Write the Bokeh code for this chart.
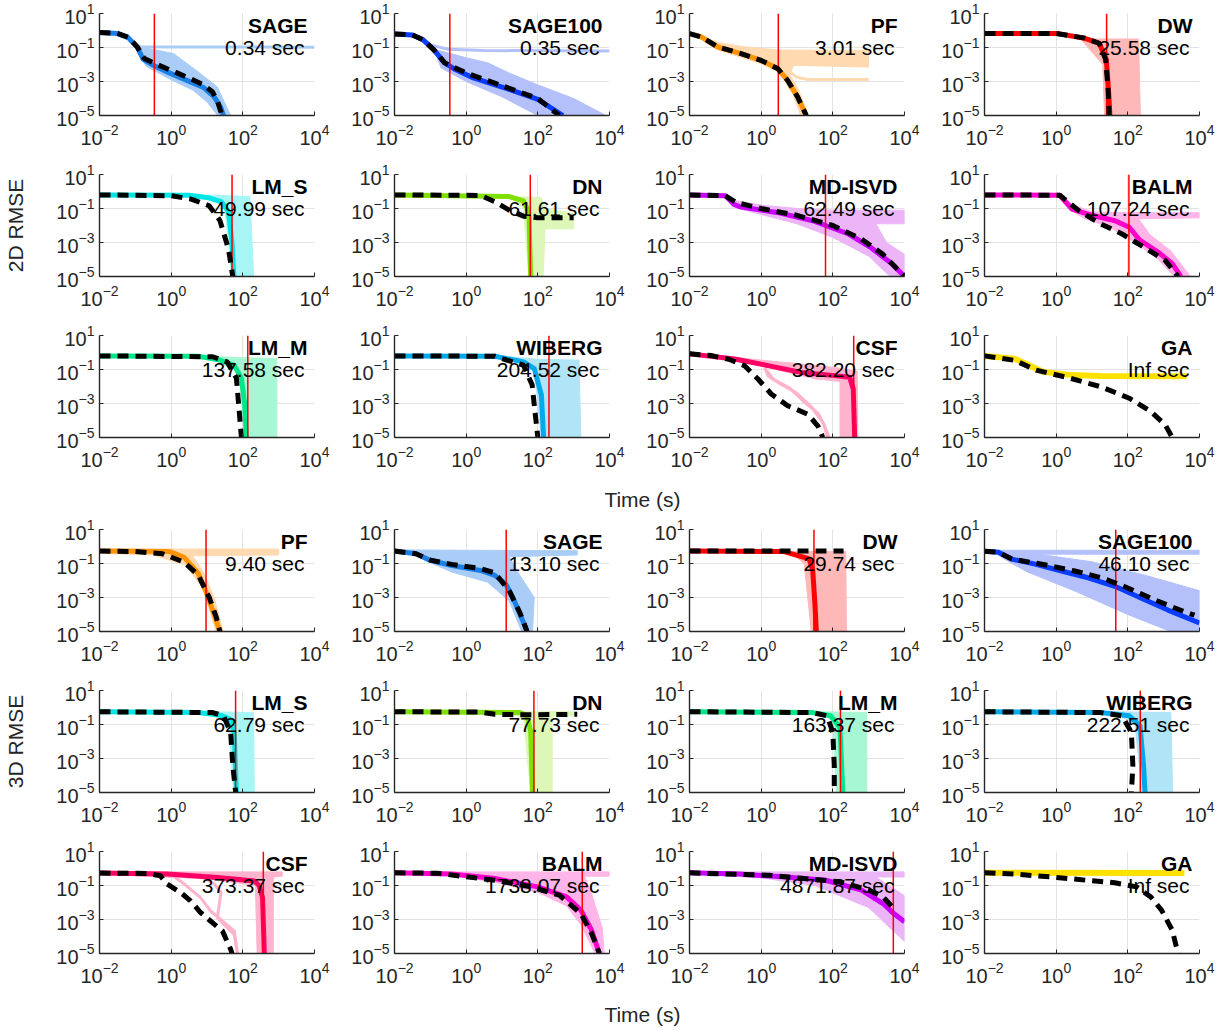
import math
from bokeh.plotting import figure
from bokeh.layouts import column, row
from bokeh.models import Range1d, FixedTicker
from bokeh.core.properties import value
from bokeh.embed import file_html
from bokeh.resources import INLINE

FONT = "Liberation Sans"

# ---------------- DATA (log10 time [s], log10 RMSE) ----------------
names_2d = ["SAGE", "SAGE100", "PF", "DW", "LM_S", "DN", "MD-ISVD", "BALM", "LM_M", "WIBERG", "CSF", "GA"]
times_2d = [0.34, 0.35, 3.01, 25.58, 49.99, 61.61, 62.49, 107.24, 137.58, 204.52, 382.20, float("inf")]
names_3d = ["PF", "SAGE", "DW", "SAGE100", "LM_S", "DN", "LM_M", "WIBERG", "CSF", "BALM", "MD-ISVD", "GA"]
times_3d = [9.40, 13.10, 29.74, 46.10, 62.79, 77.73, 163.37, 222.51, 373.37, 1738.07, 4871.87, float("inf")]

# ---- 2D ----
sage2_med = [(-2, -0.12), (-1.5, -0.18), (-1.2, -0.42), (-0.95, -0.97), (-0.78, -1.7), (-0.5, -2.05), (-0.1, -2.45), (0.45, -2.95), (0.9, -3.35), (1.2, -3.9), (1.38, -4.5), (1.46, -5)]
sage2_dash = [(-2, -0.12), (-1.5, -0.17), (-1.2, -0.4), (-0.95, -0.95), (-0.75, -1.65), (-0.45, -1.95), (0, -2.35), (0.5, -2.8), (0.9, -3.2), (1.15, -3.6), (1.3, -4.2), (1.42, -5)]
sage2_band = [(-0.95, -0.97), (-0.77, -1.0), (0.07, -1.36), (0.82, -2.54), (1.29, -3.33), (1.66, -5), (1.3, -5), (1.0, -4.2), (0.6, -3.5), (0, -2.9), (-0.7, -2.1), (-0.95, -1.2)]
sage2_tr = [[(-1.15, -0.6), (-0.9, -0.95), (0, -0.97), (4, -0.98)]]

sage100_2_med = [(-2, -0.2), (-1.5, -0.26), (-1.2, -0.55), (-0.9, -1.14), (-0.6, -1.91), (-0.3, -2.3), (0.2, -2.79), (1.2, -3.47), (2.0, -4.05), (2.7, -5.0)]
sage100_2_dash = [(-2, -0.2), (-1.5, -0.26), (-1.2, -0.55), (-0.9, -1.14), (-0.6, -1.9), (0, -2.5), (1, -3.25), (2, -4.0), (2.6, -5)]
sage100_2_band = [(-0.9, -1.1), (0, -1.6), (0.6, -1.9), (1.2, -2.5), (2, -3.2), (3, -4.0), (3.9, -5), (2.0, -5), (1, -3.9), (0, -3.0), (-0.7, -2.2)]
sage100_2_tr = [[(-1.1, -0.8), (-0.5, -1.1), (0.5, -1.18), (4, -1.2)]]

pf2_med = [(-2, -0.18), (-1.67, -0.38), (-1.21, -0.97), (-0.56, -1.36), (0, -1.76), (0.47, -2.25), (0.74, -2.94), (1.02, -3.92), (1.26, -5.0)]
pf2_dash = [(-2, -0.18), (-1.67, -0.38), (-1.21, -0.97), (-0.56, -1.36), (0, -1.76), (0.47, -2.25), (0.74, -2.94), (1.02, -3.92), (1.26, -5.0)]
pf2_band = [(-2, -0.05), (-1.2, -0.7), (-0.5, -0.95), (0.5, -1.15), (3, -1.17), (3, -2.15), (0.9, -2.05), (0.8, -2.6), (1.05, -3.5), (1.3, -5.0), (1.1, -5), (0.9, -3.8), (0.6, -2.8), (0.4, -2.35), (0, -1.95), (-0.6, -1.55), (-1.2, -1.15), (-1.7, -0.5), (-2, -0.3)]
pf2_tr = [[(0.7, -2.3), (1.0, -2.75), (1.3, -2.88), (3, -2.88)]]

dw2_med = [(-2, -0.17), (0, -0.17), (0.8, -0.46), (1.2, -0.75), (1.4, -1.7), (1.46, -3.5), (1.5, -5)]
dw2_dash = [(-2, -0.17), (0, -0.17), (0.8, -0.45), (1.2, -0.75), (1.38, -1.7), (1.45, -3.5), (1.48, -5)]
dw2_band = [(0.6, -0.3), (1.1, -0.5), (2.3, -0.5), (2.35, -5), (1.35, -5), (1.3, -2)]

lms2_med = [(-2, -0.2), (0.5, -0.22), (1.0, -0.35), (1.4, -0.6), (1.6, -1.2), (1.7, -3), (1.75, -5)]
lms2_dash = [(-2, -0.2), (0, -0.25), (0.56, -0.45), (1.06, -0.84), (1.36, -1.7), (1.6, -3.4), (1.72, -5)]
lms2_band = [(1.0, -0.2), (1.6, -0.25), (2.2, -0.3), (2.3, -5), (1.7, -5), (1.5, -1.0)]

dn2_med = [(-2, -0.2), (1.2, -0.3), (1.6, -0.55), (1.75, -1.2), (1.8, -5)]
dn2_dash = [(-2, -0.2), (0.4, -0.23), (0.8, -0.6), (1.2, -1.1), (1.6, -1.45), (2.0, -1.55), (3.0, -1.55)]
dn2_band = [(1.2, -0.3), (2.1, -0.35), (2.2, -1.0), (3.0, -1.3), (3.0, -2.2), (2.2, -2.2), (2.15, -5), (1.75, -5), (1.6, -1.0)]

mdisvd2_med = [(-2, -0.2), (-1.0, -0.25), (-0.76, -0.75), (-0.6, -0.9), (0.44, -1.23), (1.44, -1.72), (2.44, -2.5), (3.04, -3.27), (3.64, -4.24), (4, -5)]
mdisvd2_dash = [(-2, -0.2), (-1, -0.25), (-0.7, -0.65), (0, -1.0), (1.0, -1.4), (2.0, -2.0), (2.8, -2.8), (3.4, -3.7), (4, -5)]
mdisvd2_band = [(-1, -0.2), (-0.7, -0.55), (0, -0.8), (1.0, -1.0), (2.0, -1.1), (4, -1.1), (4, -1.9), (3.2, -1.9), (3.5, -3.0), (4, -3.7), (4, -5), (3.6, -5), (3.0, -3.8), (2.0, -2.7), (1.0, -1.9), (0, -1.35), (-0.8, -0.9)]

balm2_med = [(-2, -0.2), (0.1, -0.22), (0.44, -1.04), (1.0, -1.4), (1.64, -1.72), (2.04, -2.1), (2.34, -2.88), (2.84, -3.56), (3.24, -4.24), (3.48, -5)]
balm2_dash = [(-2, -0.2), (0.1, -0.22), (0.64, -1.14), (1.24, -1.9), (1.84, -2.5), (2.44, -3.27), (3.04, -4.05), (3.34, -4.83), (3.4, -5)]
balm2_band = [(0.1, -0.2), (0.5, -0.8), (1.0, -1.2), (2.0, -1.25), (4, -1.25), (4, -1.55), (2.3, -1.6), (2.6, -2.5), (3.2, -3.5), (3.75, -5), (3.3, -5), (2.8, -3.9), (2.2, -3.0), (1.5, -2.1), (0.8, -1.6), (0.4, -1.1)]

lmm2_med = [(-2, -0.2), (0.76, -0.22), (1.36, -0.45), (1.76, -0.75), (1.96, -1.5), (2.05, -3.0), (2.1, -5)]
lmm2_dash = [(-2, -0.2), (1.16, -0.25), (1.56, -0.55), (1.82, -1.5), (1.9, -3.47), (1.96, -5)]
lmm2_band = [(1.0, -0.2), (1.9, -0.3), (2.95, -0.35), (2.95, -5), (2.05, -5), (1.9, -1.2)]

wib2_med = [(-2, -0.2), (0.8, -0.22), (1.6, -0.55), (1.9, -0.95), (2.1, -2.5), (2.16, -5)]
wib2_dash = [(-2, -0.2), (0.8, -0.22), (1.6, -0.75), (1.84, -1.9), (1.92, -3.47), (2.0, -5)]
wib2_band = [(1.2, -0.25), (2.0, -0.4), (3.15, -0.45), (3.2, -5), (2.1, -5), (1.9, -1.0)]

csf2_med = [(-2, -0.08), (-0.74, -0.38), (0.19, -0.77), (1.12, -1.17), (2.05, -1.36), (2.47, -1.46), (2.57, -2.15), (2.61, -5)]
csf2_dash = [(-2, -0.08), (-1.4, -0.18), (-0.9, -0.4), (-0.47, -0.77), (-0.09, -1.56), (0.28, -2.44), (0.74, -3.13), (1.3, -3.63), (1.58, -4.31), (1.72, -5)]
csf2_band = [(-2, 0.0), (0, -0.45), (1.5, -0.75), (2.3, -0.95), (2.68, -1.1), (2.7, -5), (2.2, -5), (2.2, -1.7), (1.5, -1.55), (0.5, -1.05), (-0.5, -0.45), (-2, -0.15)]
csf2_tr = [[(0.1, -0.9), (0.2, -1.4), (0.5, -1.8), (1.0, -2.4), (1.4, -3.2), (1.75, -4.2), (1.85, -5)],
           [(0.1, -0.9), (0.35, -1.6), (0.8, -2.1), (1.2, -2.9), (1.6, -3.6), (1.8, -4.5), (1.9, -5)]]

ga2_med = [(-2, -0.2), (-1.16, -0.36), (-0.76, -0.75), (-0.36, -1.14), (0.44, -1.33), (1.24, -1.38), (3.64, -1.39)]
ga2_dash = [(-2, -0.2), (-1.16, -0.46), (-0.56, -1.04), (0.24, -1.43), (1.24, -2.01), (2.04, -2.69), (2.64, -3.47), (3.04, -4.24), (3.24, -5)]

# ---- 3D ----
pf3_med = [(-2, -0.27), (-0.04, -0.3), (0.36, -0.63), (0.76, -1.6), (0.96, -2.6), (1.16, -3.76), (1.36, -5)]
pf3_dash = [(-2, -0.27), (-1.04, -0.29), (-0.24, -0.43), (0.36, -0.92), (0.76, -1.7), (1.06, -2.98), (1.26, -4.16), (1.36, -5)]
pf3_band = [(-2, -0.15), (3.0, -0.15), (3.0, -0.5), (0.6, -0.55), (0.9, -1.5), (1.2, -3.0), (1.45, -5), (1.25, -5), (0.9, -2.5), (0.4, -1.1), (-0.5, -0.5), (-2, -0.4)]

sage3_med = [(-2, -0.27), (-1.4, -0.43), (-1.0, -0.82), (-0.4, -1.12), (0.4, -1.41), (0.8, -1.7), (1.1, -2.2), (1.3, -2.98), (1.5, -3.96), (1.7, -5)]
sage3_dash = [(-2, -0.27), (-1.4, -0.43), (-1.0, -0.8), (-0.4, -1.05), (0.4, -1.3), (0.8, -1.55), (1.2, -2.6), (1.5, -3.9), (1.7, -5)]
sage3_band = [(-2, -0.2), (3.1, -0.25), (3.1, -0.5), (1.2, -0.6), (1.5, -1.7), (1.9, -3.0), (1.85, -5), (1.55, -5), (1.2, -3.2), (0.6, -2.1), (-0.4, -1.5), (-1.0, -0.95), (-1.5, -0.45)]

dw3_med = [(-2, -0.27), (0.64, -0.3), (1.34, -0.73), (1.44, -1.41), (1.5, -3.37), (1.54, -5)]
dw3_dash = [(-2, -0.27), (2.3, -0.27)]
dw3_band = [(0.8, -0.3), (2.36, -0.3), (2.38, -5), (1.4, -5), (1.2, -1.0)]

sage100_3_med = [(-2, -0.28), (-1.61, -0.34), (-1.24, -0.74), (-0.59, -1.04), (0.15, -1.44), (0.89, -1.84), (1.64, -2.34), (2.38, -3.04), (3.12, -3.74), (4, -4.5)]
sage100_3_dash = [(-2, -0.28), (-1.61, -0.34), (-1.24, -0.74), (-0.4, -1.04), (0.52, -1.44), (1.27, -1.84), (2.0, -2.44), (2.75, -3.14), (3.58, -3.84), (3.86, -4.04)]
sage100_3_band = [(-2, -0.22), (4, -0.22), (4, -0.45), (-0.5, -0.45), (1.0, -0.9), (2.5, -1.7), (4, -2.6), (4, -5), (3.2, -5), (2.0, -4.0), (0.5, -2.6), (-0.8, -1.5), (-1.4, -0.8), (-1.7, -0.4)]

lms3_med = [(-2, -0.25), (0.76, -0.3), (1.36, -0.45), (1.66, -0.69), (1.76, -1.47), (1.82, -5)]
lms3_dash = [(-2, -0.25), (1.16, -0.3), (1.46, -0.49), (1.66, -1.47), (1.72, -3.43), (1.8, -5)]
lms3_band = [(1.2, -0.25), (2.3, -0.3), (2.32, -5), (1.75, -5), (1.6, -1.0)]

dn3_med = [(-2, -0.25), (1.5, -0.3), (1.7, -0.5), (1.8, -1.4), (1.85, -5)]
dn3_dash = [(-2, -0.25), (0.4, -0.27), (0.8, -0.4), (1.5, -0.43), (3.1, -0.4)]
dn3_band = [(1.0, -0.25), (3.0, -0.25), (3.0, -0.5), (2.4, -0.5), (2.4, -5), (1.8, -5), (1.6, -0.6)]

lmm3_med = [(-2, -0.25), (1.44, -0.3), (1.94, -0.49), (2.2, -1.2), (2.28, -5)]
lmm3_dash = [(-2, -0.25), (1.44, -0.3), (1.84, -0.49), (2.0, -1.47), (2.04, -3.43), (2.04, -5)]
lmm3_band = [(1.6, -0.25), (2.95, -0.3), (2.95, -5), (2.1, -5), (2.0, -0.8)]

wib3_med = [(-2, -0.25), (1.24, -0.3), (2.04, -0.49), (2.34, -1.08), (2.44, -3.43), (2.48, -5)]
wib3_dash = [(-2, -0.25), (1.24, -0.3), (1.84, -0.49), (2.1, -1.47), (2.14, -3.43), (2.1, -5)]
wib3_band = [(1.6, -0.25), (3.2, -0.3), (3.25, -5), (2.4, -5), (2.2, -1.0)]

csf3_med = [(-2, -0.27), (-0.11, -0.33), (1.29, -0.53), (2.32, -0.73), (2.46, -1.02), (2.55, -1.71), (2.6, -5)]
csf3_dash = [(-2, -0.27), (-0.67, -0.29), (-0.3, -0.43), (-0.11, -0.92), (0.26, -1.41), (0.54, -1.9), (0.82, -2.59), (1.2, -3.27), (1.43, -3.67), (1.66, -4.75), (1.7, -5)]
csf3_band = [(-2, -0.2), (3.1, -0.2), (3.1, -0.45), (2.85, -0.5), (2.85, -5), (2.4, -5), (2.35, -1.0), (1.0, -0.6), (-2, -0.35)]
csf3_tr = [[(0.0, -0.35), (0.36, -0.9), (0.82, -1.71), (1.1, -2.5), (1.76, -3.67), (1.85, -5)],
           [(0.8, -0.45), (1.2, -0.9), (1.39, -1.4), (1.29, -2.9), (1.76, -3.9), (1.85, -5)]]

balm3_med = [(-2, -0.25), (-0.4, -0.33), (0.8, -0.59), (2.0, -1.08), (2.8, -1.67), (3.2, -2.45), (3.5, -3.63), (3.7, -4.9), (3.72, -5)]
balm3_dash = [(-2, -0.25), (-0.8, -0.28), (0, -0.49), (0.8, -0.69), (1.8, -1.08), (2.6, -1.57), (3.2, -2.65), (3.5, -3.82), (3.72, -5)]
balm3_band = [(-2, -0.2), (4, -0.2), (4, -0.45), (3.3, -0.45), (3.5, -1.5), (3.8, -3.5), (3.85, -5), (3.6, -5), (3.2, -3.3), (2.8, -2.2), (2.0, -1.4), (0.8, -0.8), (-0.5, -0.4), (-2, -0.3)]

mdisvd3_med = [(-2, -0.25), (-0.6, -0.33), (0.6, -0.49), (1.8, -0.69), (2.8, -1.27), (3.4, -2.06), (3.7, -2.65), (4, -3.14)]
mdisvd3_dash = [(-2, -0.25), (-1, -0.33), (0.2, -0.39), (1.2, -0.59), (2.2, -0.78), (3.0, -1.27), (3.4, -1.67), (3.7, -2.35)]
mdisvd3_band = [(-2, -0.2), (4, -0.2), (4, -0.5), (3.2, -0.5), (4, -1.6), (4, -4.3), (3.0, -2.3), (1.5, -1.0), (0, -0.55), (-2, -0.32)]

ga3_med = [(-2, -0.25), (3.58, -0.27)]
ga3_dash = [(-2, -0.25), (-1.16, -0.33), (-0.16, -0.49), (0.84, -0.69), (1.64, -0.84), (2.24, -1.08), (2.64, -1.67), (2.94, -2.45), (3.24, -3.63), (3.4, -5)]

# ---------------- STYLE ----------------
COLORS = {
    "SAGE": ("#1a7fe6", "#a9cdf7"),
    "SAGE100": ("#0a3cff", "#b3c0fa"),
    "PF": ("#ff9400", "#ffd9b0"),
    "DW": ("#ff0000", "#ffb8b8"),
    "LM_S": ("#00e5e5", "#a8f5f5"),
    "DN": ("#80e000", "#dcf7b8"),
    "MD-ISVD": ("#cc00ff", "#ebb5f7"),
    "BALM": ("#ff00cc", "#ffb5e8"),
    "LM_M": ("#00e68a", "#a8f7d4"),
    "WIBERG": ("#00a8ec", "#b0e4f7"),
    "CSF": ("#ff0066", "#ffb3cc"),
    "GA": ("#ffe100", "#fff3a0"),
}

panels_2d = [
    (sage2_med, sage2_dash, sage2_band, sage2_tr),
    (sage100_2_med, sage100_2_dash, sage100_2_band, sage100_2_tr),
    (pf2_med, pf2_dash, pf2_band, pf2_tr),
    (dw2_med, dw2_dash, dw2_band, []),
    (lms2_med, lms2_dash, lms2_band, []),
    (dn2_med, dn2_dash, dn2_band, []),
    (mdisvd2_med, mdisvd2_dash, mdisvd2_band, []),
    (balm2_med, balm2_dash, balm2_band, []),
    (lmm2_med, lmm2_dash, lmm2_band, []),
    (wib2_med, wib2_dash, wib2_band, []),
    (csf2_med, csf2_dash, csf2_band, csf2_tr),
    (ga2_med, ga2_dash, None, []),
]
panels_3d = [
    (pf3_med, pf3_dash, pf3_band, []),
    (sage3_med, sage3_dash, sage3_band, []),
    (dw3_med, dw3_dash, dw3_band, []),
    (sage100_3_med, sage100_3_dash, sage100_3_band, []),
    (lms3_med, lms3_dash, lms3_band, []),
    (dn3_med, dn3_dash, dn3_band, []),
    (lmm3_med, lmm3_dash, lmm3_band, []),
    (wib3_med, wib3_dash, wib3_band, []),
    (csf3_med, csf3_dash, csf3_band, csf3_tr),
    (balm3_med, balm3_dash, balm3_band, []),
    (mdisvd3_med, mdisvd3_dash, mdisvd3_band, []),
    (ga3_med, ga3_dash, None, []),
]

AX = "#262626"
FRAME_W, FRAME_H = 215, 102


def xy(pts):
    return [10 ** a for a, _ in pts], [10 ** b for _, b in pts]


def make_panel(name, t, spec, col, ylabel=None):
    med, dash, band, traces = spec
    left = 99 if col == 0 else 57
    right = 23
    p = figure(width=left + FRAME_W + right, height=13 + FRAME_H + 46,
               x_axis_type="log", y_axis_type="log",
               x_range=Range1d(1e-2, 1e4), y_range=Range1d(1e-5, 10),
               output_backend="svg", toolbar_location=None,
               min_border_left=left, min_border_right=right,
               min_border_top=13, min_border_bottom=46)
    p.outline_line_color = None
    p.background_fill_color = "white"
    p.border_fill_color = "white"
    p.xaxis.ticker = FixedTicker(ticks=[1e-2, 1, 1e2, 1e4])
    p.yaxis.ticker = FixedTicker(ticks=[1e-5, 1e-3, 1e-1, 10])
    for ax in (p.xaxis[0], p.yaxis[0]):
        ax.axis_line_color = AX
        ax.axis_line_width = 1.4
        ax.major_tick_in = 4
        ax.major_tick_out = 0
        ax.minor_tick_in = 0
        ax.minor_tick_out = 0
        ax.major_tick_line_color = AX
        ax.major_label_text_font = FONT
        ax.major_label_text_font_size = "20px"
        ax.major_label_text_color = AX
    p.xaxis.major_label_standoff = 8
    p.yaxis.major_label_standoff = 5
    p.grid.grid_line_color = "#e3e3e3"
    p.grid.grid_line_width = 1
    if ylabel:
        p.yaxis.axis_label = ylabel
        p.yaxis.axis_label_text_font = FONT
        p.yaxis.axis_label_text_font_size = "21px"
        p.yaxis.axis_label_text_font_style = "normal"
        p.yaxis.axis_label_text_color = AX
        p.yaxis.axis_label_standoff = 26

    dark, light = COLORS[name]
    if band:
        bx, by = xy(band)
        p.patch(bx, by, fill_color=light, line_color=light, line_width=1)
    for tr in traces:
        tx, ty = xy(tr)
        p.line(tx, ty, line_color=light, line_width=3)
    mx, my = xy(med)
    p.line(mx, my, line_color=dark, line_width=6 if name == "GA" else 5, line_join="round")
    if math.isfinite(t):
        p.line([t, t], [1e-5, 10], line_color="#ff0000", line_width=1.5)
    dx, dy = xy(dash)
    p.line(dx, dy, line_color="black", line_width=5, line_dash="11 7")
    p.text(x=[1e4], y=[10 ** 0.27], text=[name], text_align="right", text_baseline="middle",
           x_offset=-7, text_font=value(FONT), text_font_style="bold",
           text_font_size="21px", text_color="black")
    label = f"{t:.2f} sec" if math.isfinite(t) else "Inf sec"
    p.text(x=[1e4], y=[10 ** -0.98], text=[label], text_align="right", text_baseline="middle",
           x_offset=-10, text_font=value(FONT), text_font_size="21px", text_color="black")
    return p


def time_label(h):
    f = figure(width=1222, height=h, x_range=Range1d(0, 1222), y_range=Range1d(0, h),
               output_backend="svg", toolbar_location=None,
               min_border=0, min_border_left=0, min_border_right=0,
               min_border_top=0, min_border_bottom=0)
    f.axis.visible = False
    f.grid.visible = False
    f.outline_line_color = None
    f.text(x=[642], y=[h / 2 + 1], text=["Time (s)"], text_align="center", text_baseline="middle",
           text_font=value(FONT), text_font_size="21px", text_color=AX)
    return f


rows = []
for r in range(3):
    figs = []
    for c in range(4):
        i = r * 4 + c
        figs.append(make_panel(names_2d[i], times_2d[i], panels_2d[i], c,
                               ylabel="2D RMSE" if (r == 1 and c == 0) else None))
    rows.append(row(*figs, spacing=0))
rows.append(time_label(33))
for r in range(3):
    figs = []
    for c in range(4):
        i = r * 4 + c
        figs.append(make_panel(names_3d[i], times_3d[i], panels_3d[i], c,
                               ylabel="3D RMSE" if (r == 1 and c == 0) else None))
    rows.append(row(*figs, spacing=0))
rows.append(time_label(31))

layout = column(*rows, spacing=0)
open("out.html", "w").write(file_html(layout, INLINE))
